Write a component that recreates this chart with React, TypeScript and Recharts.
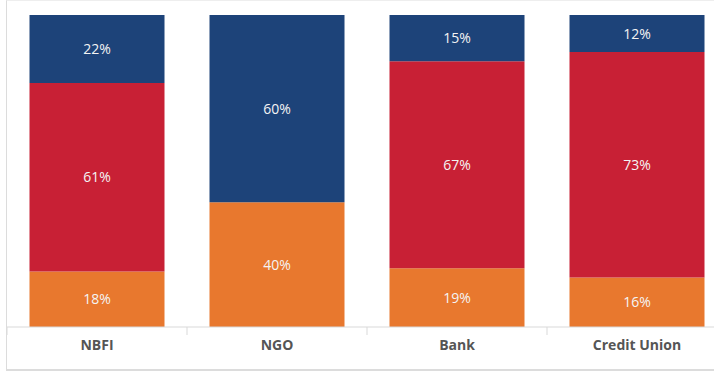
import React from 'react';
import { BarChart, Bar, XAxis, YAxis, LabelList } from 'recharts';

const categories = ['NBFI', 'NGO', 'Bank', 'Credit Union'];
const lowShare = [18, 40, 19, 16];
const midShare = [61, 0, 67, 73];
const highShare = [22, 60, 15, 12];

const data = categories.map((name, i) => ({
  name,
  low: lowShare[i],
  mid: midShare[i],
  high: highShare[i],
}));

const pct = (v: any) => (v ? `${v}%` : '');

const CategoryTick = (props: any) => {
  const { x, y, payload } = props;
  const half = payload && payload.offset ? payload.offset : 90;
  return (
    <g>
      <line x1={x - half} y1={y} x2={x - half} y2={y + 8} stroke="#d9d9d9" strokeWidth={1} />
      <text
        x={x}
        y={y + 23}
        textAnchor="middle"
        fill="#555"
        fontSize={14}
        fontWeight={700}
        fontFamily="'Open Sans', sans-serif"
      >
        {payload.value}
      </text>
    </g>
  );
};

const labelStyle = { fill: '#f4f4f4', fontSize: 14, fontFamily: "'Open Sans', sans-serif" };

export default function App() {
  return (
    <div style={{ position: 'fixed', left: 0, top: 0, width: 714, height: 372, overflow: 'hidden', background: '#fff' }}>
      <div
        style={{
          position: 'absolute',
          left: 6,
          top: 0,
          width: 760,
          height: 371,
          boxSizing: 'border-box',
          borderLeft: '1px solid #dcdcdc',
          borderTop: '1px solid #eeeeee',
          borderBottom: '2px solid #dcdcdc',
        }}
      >
        <div style={{ position: 'absolute', left: 0, top: -1 }}>
          <BarChart
            width={720}
            height={370}
            data={data}
            stackOffset="expand"
            barCategoryGap="12.5%"
            margin={{ top: 15, right: 0, bottom: 0, left: 0 }}
          >
            <XAxis
              dataKey="name"
              height={43}
              axisLine={{ stroke: '#d9d9d9' }}
              tickLine={false}
              tickSize={0}
              tickMargin={0}
              tick={<CategoryTick />}
              interval={0}
            />
            <YAxis hide domain={[0, 1]} />
            <Bar dataKey="low" stackId="a" fill="#E8782E" isAnimationActive={false}>
              <LabelList dataKey="low" position="center" formatter={pct} style={labelStyle} />
            </Bar>
            <Bar dataKey="mid" stackId="a" fill="#C82035" isAnimationActive={false}>
              <LabelList dataKey="mid" position="center" formatter={pct} style={labelStyle} />
            </Bar>
            <Bar dataKey="high" stackId="a" fill="#1D4379" isAnimationActive={false}>
              <LabelList dataKey="high" position="center" formatter={pct} style={labelStyle} />
            </Bar>
          </BarChart>
        </div>
      </div>
    </div>
  );
}
